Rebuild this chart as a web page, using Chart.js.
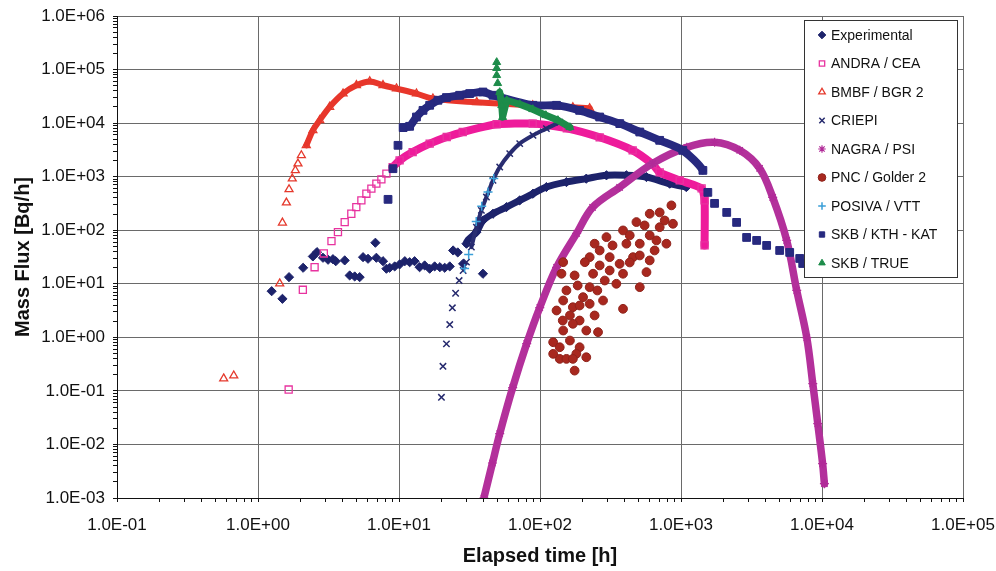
<!DOCTYPE html>
<html><head><meta charset="utf-8">
<script src="https://cdn.jsdelivr.net/npm/chart.js"></script>
<style>html,body{margin:0;padding:0;background:#fff;}#wrap{width:996px;height:571px;}</style>
</head><body><div id="wrap"><canvas id="c" width="996" height="571"></canvas></div>
<script>
// ---------- data (time in h, mass flux in Bq/h) ----------
const seriesNames = ['Experimental','ANDRA / CEA','BMBF / BGR 2','CRIEPI','NAGRA / PSI','PNC / Golder 2','POSIVA / VTT','SKB / KTH - KAT','SKB / TRUE'];

const expTime = [1.25,1.49,1.66,2.09,2.45,2.62,2.89,3.14,3.40,3.56,4.12,4.47,4.85,5.26,5.56,6.03,6.80,6.91,7.70,8.14,8.59,9.32,10.1,11.0,11.9,12.9,14.0,15.2,16.5,17.9,19.5,21.1,22.9,24.2,26.1,28.5,39.4,
  30.1,35.4,39.4,46.4,57.8,71.8,89.2,111,154,213,296,410,569,831,1090];
const expFlux = [7.27,5.24,13.3,19.9,32.4,39.0,30.6,28.1,28.8,26.4,27.3,14.3,13.7,13.3,31.4,29.3,58.4,30.6,26.4,19.1,19.9,21.1,23.0,26.4,25.3,26.4,20.4,22.0,19.1,21.1,20.4,19.9,21.1,41.9,38.5,23.6,15.4,
  56.0,92.1,152,203,270,361,481,640,793,918,1060,1060,984,740,640];

const andraTime = [1.65,2.08,2.52,2.93,3.32,3.69,4.12,4.59,4.98,5.41,5.87,6.37,6.91,7.50,8.14,
  9.02,10.1,12.5,16.5,21.8,28.3,49.3,88.8,155,265,454,630,706,979,1400,1470,1470];
const andraFlux = [0.106,7.73,20.4,36.8,62.5,92.1,142,203,270,361,481,597,740,891,1140,
  1510,2010,2880,4140,5500,6820,9500,9800,8000,5430,3100,1700,1200,853,604,361,52];

const bmbfTime = [0.571,0.673,1.425,1.49,1.59,1.66,1.75,1.84,1.92,2.03,2.20,2.45,2.74,3.22,4.01,4.99,6.20,7.70,9.59,13.3,17.4,35.6,88.8,171,225];
const bmbfFlux = [0.170,0.193,10.1,138,327,579,918,1310,1750,2500,3850,7330,11300,20000,35600,50900,60000,50900,44200,35600,28700,24500,21500,19700,18900];

const criepiTime = [20.0,20.5,21.7,22.9,23.9,25.2,26.7,28.5,30.1,32.6,35.4,38.4,41.7,46.4,51.8,61.0,71.8,89.2,111,138];
const criepiFlux = [0.0759,0.288,0.756,1.73,3.56,6.66,11.5,17.7,25.4,48.3,114,235,416,853,1510,2690,4140,5920,7890,10400];

const nagraTime = [40.0,46.0,51.8,64.0,80.5,99.6,131,182,236,367,630,1100,1730,2610,3610,4470,5620,6620,7800,8600,9330,10100,10400];
const nagraFlux = [0.00100,0.0045,0.0159,0.115,0.766,3.60,20.2,87.1,267,631,1770,3530,4380,3100,1430,410,64.5,7.50,0.99,0.137,0.0245,0.00437,0.00185];

const pncTime = [855,877,788,600,569,510,600,483,388,296,244,225,208,146,142,238,225,202,154,146,131,171,225,280,348,388,367,312,457,510,670,706,410,388,146,258,191,213,171,124,138,163,191,213,181,138,154,171,176,124,
  265,327,433,552,706,766,600,510,433,265,176,185,288,312,163,145,650,255,191,244];
const pncFlux = [291,132,56.0,27.3,16.5,8.64,203,142,99.1,74.3,56.0,31.4,25.3,25.3,15.4,15.4,8.64,5.62,7.50,4.87,3.17,3.65,4.23,4.87,10.0,15.4,23.6,31.4,31.4,56.0,64.5,114,56.0,3.41,1.34,1.25,2.06,1.34,1.79,0.810,0.653,0.871,0.653,0.425,0.492,0.396,0.396,0.396,0.239,0.492,
  41.9,52.0,80.0,123,215,152,80.0,33.8,25.0,22.0,14.3,9.29,11.5,17.7,2.56,2.06,41.9,7.50,3.93,2.56];

const posivaTime = [29.2,31.2,35.3,38.6,42.8,47.0];
const posivaFlux = [19.3,35.3,146,279,515,929];

const katTime = [8.36,9.06,9.84,10.7,11.9,13.3,14.8,16.5,18.9,21.7,26.9,31.7,39.4,46.4,89.2,131,191,265,368,510,706,1030,1430,1550,1730,2110,2480,2920,3440,4050,5010,5900,6950,7300];
const katFlux = [377,1410,3850,8240,8710,13000,17300,21500,26700,30000,33100,35600,38100,33100,21500,21500,17300,13000,9790,6820,4770,3100,1310,509,317,215,140,73.3,64.5,52.0,41.9,38.5,29.7,23.9];

const trueTime = [49.3,49.3,49.3,50.1,51.8,53.5,54.3,58.1,71.8,88.8,110,134,163];
const trueFlux = [137000,106000,78200,55500,37700,21500,12900,26700,22500,18100,14000,11300,8340];

const xTickValues = [0.1,1,10,100,1000,10000,100000];
const yTickValues = [0.001,0.01,0.1,1,10,100,1000,10000,100000,1000000];
const xTitle = 'Elapsed time [h]';
const yTitle = 'Mass Flux [Bq/h]';

// ---------- helpers ----------
const FONT = '"Liberation Sans", Arial, Helvetica, sans-serif';
function pts(t, f){ return t.map((v,i)=>({x:v, y:f[i]})); }
function isDecade(v){ const l=Math.log10(v); return Math.abs(l-Math.round(l))<1e-6; }
function sci(v){ const e=Math.round(Math.log10(v)); const m=v/Math.pow(10,e);
  return m.toFixed(1)+'E'+(e<0?'-':'+')+String(Math.abs(e)).padStart(2,'0'); }
function withMinor(majors){ const out=[]; majors.forEach((m,i)=>{ out.push(m);
  if(i<majors.length-1){ for(let k=2;k<10;k++) out.push(+(m*k).toPrecision(6)); } }); return out; }
function band(from, to){ return { borderColor: ctx => (ctx.p0DataIndex>=from && ctx.p0DataIndex<to) ? undefined : 'rgba(0,0,0,0)' }; }

function ds(i, t, f, o){
  return Object.assign({label: seriesNames[i], data: pts(t,f), order: 20 - i, showLine:false, tension:0,
    borderCapStyle:'round', borderJoinStyle:'round', pointHoverRadius:0}, o);
}

const datasets = [
  ds(0, expTime, expFlux, {pointStyle:'rectRot', pointRadius:4.6, pointBackgroundColor:'#1d236b', pointBorderColor:'#1d236b', pointBorderWidth:1,
     showLine:true, tension:0.3, borderColor:'#1d236b', borderWidth:7, segment: band(37, 9999)}),
  ds(1, andraTime, andraFlux, {pointStyle:'rect', pointRadius:5, pointBackgroundColor:'rgba(255,255,255,0)', pointBorderColor:'#e8339f', pointBorderWidth:1.3,
     showLine:true, tension:0.2, borderColor:'#ee1b9b', borderWidth:8, segment: band(15, 9999)}),
  ds(2, bmbfTime, bmbfFlux, {pointStyle:'triangle', pointRadius:4.6, pointBackgroundColor:'rgba(255,255,255,0)', pointBorderColor:'#e5392c', pointBorderWidth:1.3,
     showLine:true, tension:0.35, borderColor:'#e8362b', borderWidth:6, segment: band(10, 9999)}),
  ds(3, criepiTime, criepiFlux, {pointStyle:'crossRot', pointRadius:4.5, pointBackgroundColor:'#262a6e', pointBorderColor:'#262a6e', pointBorderWidth:1.5,
     showLine:true, tension:0.3, borderColor:'#2a2e72', borderWidth:4, segment: band(9, 9999)}),
  ds(4, nagraTime, nagraFlux, {pointStyle:'star', pointRadius:4.5, pointBackgroundColor:'#b12a98', pointBorderColor:'#b12a98', pointBorderWidth:1.2,
     showLine:true, tension:0.35, borderColor:'#b3309b', borderWidth:7.5}),
  ds(5, pncTime, pncFlux, {pointStyle:'circle', pointRadius:4.4, pointBackgroundColor:'#a8281f', pointBorderColor:'#8f231b', pointBorderWidth:1}),
  ds(6, posivaTime, posivaFlux, {pointStyle:'cross', pointRadius:4.5, pointBackgroundColor:'#3a9fd8', pointBorderColor:'#3a9fd8', pointBorderWidth:1.5}),
  ds(7, katTime, katFlux, {pointStyle:'rect', pointRadius:5.5, pointBackgroundColor:'#27297f', pointBorderColor:'#27297f', pointBorderWidth:1,
     showLine:true, tension:0.25, borderColor:'#27297f', borderWidth:8, segment: band(3, 22)}),
  ds(8, trueTime, trueFlux, {pointStyle:'triangle', pointRadius:4.6, pointBackgroundColor:'#1d8c4a', pointBorderColor:'#1d8c4a', pointBorderWidth:1,
     showLine:true, borderColor:'#1d8c4a', borderWidth:7, segment: band(4, 9999)})
];

// ---------- boxed legend inside the plot ----------
const boxLegend = {
  id: 'boxLegend',
  afterDraw(chart){
    const ctx = chart.ctx;
    const L = 804, T = 20, R = 957, B = 277;
    ctx.save();
    ctx.fillStyle = '#ffffff'; ctx.fillRect(L, T, R-L, B-T);
    ctx.strokeStyle = '#333'; ctx.lineWidth = 1; ctx.strokeRect(L+0.5, T+0.5, R-L, B-T);
    ctx.font = '14px ' + FONT; ctx.textBaseline = 'middle'; ctx.textAlign = 'left';
    chart.data.datasets.forEach((d, i) => {
      const y = 35 + i*28.5, x = 822;
      ctx.save();
      ctx.fillStyle = d.pointBackgroundColor === 'rgba(255,255,255,0)' ? '#ffffff' : d.pointBackgroundColor;
      ctx.strokeStyle = d.pointBorderColor;
      ctx.lineWidth = d.pointBorderWidth;
      Chart.helpers.drawPoint(ctx, {pointStyle: d.pointStyle, rotation: 0, radius: 3.8, borderWidth: d.pointBorderWidth}, x, y);
      ctx.restore();
      ctx.fillStyle = '#111';
      ctx.fillText(d.label, 831, y + 1);
    });
    ctx.restore();
  }
};

function axis(values, title, isX){
  const all = withMinor(values);
  return {
    type: 'logarithmic',
    min: values[0], max: values[values.length-1],
    afterBuildTicks: s => { s.ticks = all.map(v => ({value: v, major: isDecade(v)})); },
    afterFit: s => {
      if (isX) { s.height = 73; s.paddingLeft = 0; s.paddingRight = 0; }
      else { s.width = 117; s.paddingTop = 0; s.paddingBottom = 0; }
    },
    ticks: { autoSkip:false, maxRotation:0, minRotation:0, padding: isX ? 13 : 8, color:'#111',
      font:{family: FONT, size:17}, callback: v => isDecade(v) ? sci(v) : '' },
    grid: { color: c => (c.tick && c.tick.major) ? '#6a6a6a' : 'rgba(0,0,0,0)', lineWidth:1, tickLength:4, tickColor:'#111' },
    border: { display:true, color:'#111', width:1 },
    title: { display:true, text:title, color:'#111', font:{family: FONT, size:20, weight:'bold'},
      padding: isX ? {top:4, bottom:3} : {top:11, bottom:4} }
  };
}

new Chart(document.getElementById('c'), {
  type: 'scatter',
  data: { datasets },
  options: {
    responsive:false, animation:false, devicePixelRatio:1, events:[],
    layout: { padding: {left:0, right:33, top:16, bottom:0} },
    plugins: { legend:{display:false}, tooltip:{enabled:false} },
    scales: { x: axis(xTickValues, xTitle, true), y: axis(yTickValues, yTitle, false) }
  },
  plugins: [boxLegend]
});
</script>
</body></html>
